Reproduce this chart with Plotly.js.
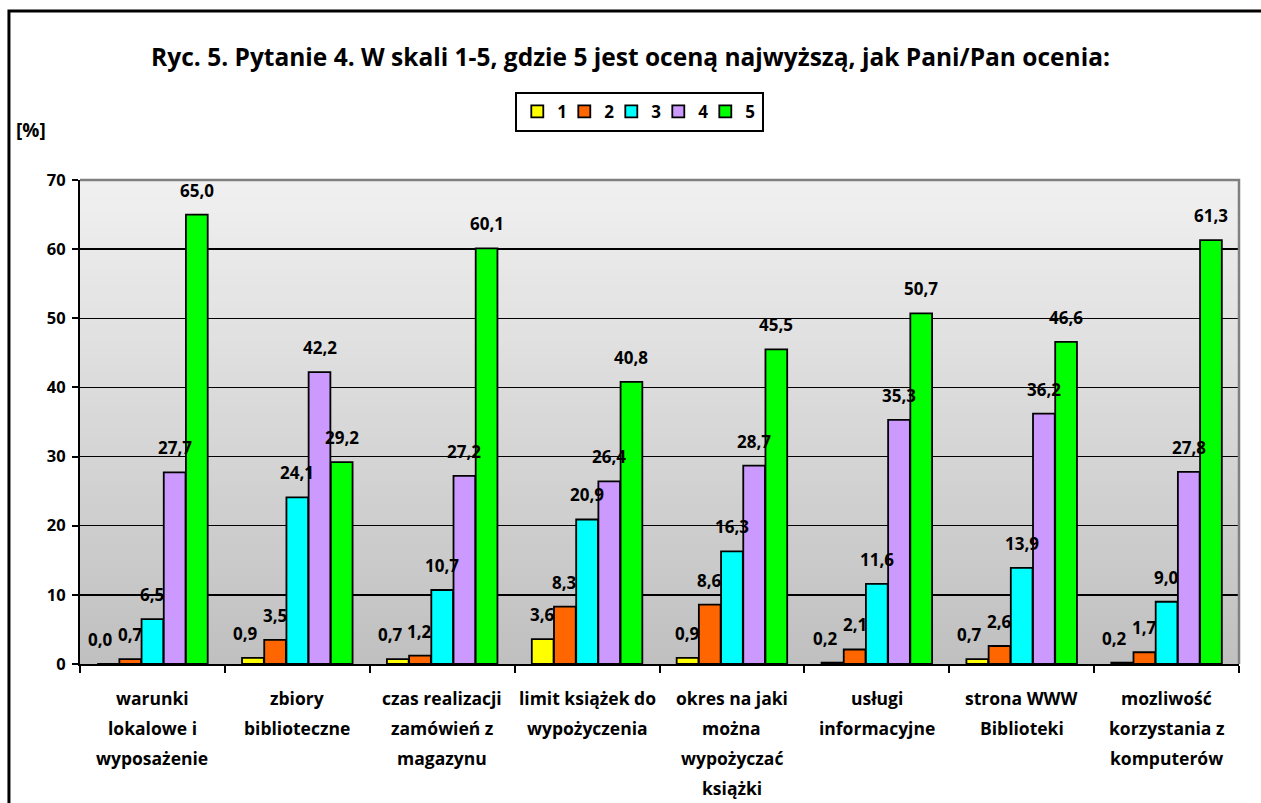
<!DOCTYPE html>
<html>
<head>
<meta charset="utf-8">
<script src="https://cdn.plot.ly/plotly-3.0.1.min.js"></script>
<style>html,body{margin:0;padding:0;background:#fff;}#chart{width:1261px;height:803px;}</style>
</head>
<body>
<div id="chart"></div>
<script>
const categories = [
  "warunki<br>lokalowe i<br>wyposażenie",
  "zbiory<br>biblioteczne",
  "czas realizacji<br>zamówień z<br>magazynu",
  "limit książek do<br>wypożyczenia",
  "okres na jaki<br>można<br>wypożyczać<br>książki",
  "usługi<br>informacyjne",
  "strona WWW<br>Biblioteki",
  "mozliwość<br>korzystania z<br>komputerów"
];
const seriesNames = ["1", "2", "3", "4", "5"];
const s1 = [0.0, 0.9, 0.7, 3.6, 0.9, 0.2, 0.7, 0.2];
const s2 = [0.7, 3.5, 1.2, 8.3, 8.6, 2.1, 2.6, 1.7];
const s3 = [6.5, 24.1, 10.7, 20.9, 16.3, 11.6, 13.9, 9.0];
const s4 = [27.7, 42.2, 27.2, 26.4, 28.7, 35.3, 36.2, 27.8];
const s5 = [65.0, 29.2, 60.1, 40.8, 45.5, 50.7, 46.6, 61.3];
const yTicks = [0, 10, 20, 30, 40, 50, 60, 70];

const colors = ["#ffff00", "#ff6600", "#00ffff", "#cc99ff", "#00ff00"];
const FONT = "'Open Sans', 'Noto Sans', sans-serif";
const allSeries = [s1, s2, s3, s4, s5];

const W = 1261, H = 803;
const M = { l: 80, r: 22, t: 180, b: 139 };
const BARGAP = 0.234, GROUPGAP = 0.02;
const YMAX = 70;
const LABEL_SIZE = 17;

const traces = allSeries.map((vals, i) => ({
  type: "bar",
  name: seriesNames[i],
  x: categories,
  y: vals,
  marker: { color: colors[i], line: { color: "#000", width: 1.8 } },
  legendwidth: i === allSeries.length - 1 ? 12 : 2,
  hoverinfo: "x+y"
}));

// gradient background bands
const shapes = [];
const N = 60;
for (let k = 0; k < N; k++) {
  const t = k / (N - 1);
  const c = Math.round(0xc0 + (0xf0 - 0xc0) * t);
  const hex = "#" + c.toString(16).padStart(2, "0").repeat(3);
  shapes.push({
    type: "rect", xref: "x domain", yref: "y domain",
    x0: 0, x1: 1, y0: k / N, y1: (k + 1) / N + 0.002,
    fillcolor: hex, line: { width: 0 }, layer: "below"
  });
}
// gray top/right border of plot area
shapes.push({
  type: "path", xref: "x domain", yref: "y domain",
  path: "M 0 1 L 1 1 L 1 0",
  line: { color: "#808080", width: 2.5 }, layer: "above"
});
// outer frame
shapes.push({
  type: "rect", xref: "paper", yref: "paper",
  x0: -0.0613, x1: 1.2, y0: -0.6, y1: 1.349,
  line: { color: "#000", width: 3 }, fillcolor: "rgba(0,0,0,0)", layer: "below"
});

const annotations = [];

// value labels: anchored at (category, value), offset to their bar within the group
const plotW = W - M.l - M.r, plotH = H - M.t - M.b;
const slot = plotW / categories.length * (1 - BARGAP) / allSeries.length;
const pxPerUnit = plotH / YMAX;
const fmt = v => v.toFixed(1).replace(".", ",");
const estWidth = s => s.split("").reduce((a, ch) => a + (ch === "," ? 0.3 : 0.6) * LABEL_SIZE, 0);
categories.forEach((cat, ci) => {
  const n = allSeries.length;
  const shifts = new Array(n).fill(0);
  // simple overlap avoidance: push a label left if it collides with its right neighbour
  for (let i = n - 2; i >= 0; i--) {
    const a = allSeries[i][ci], b = allSeries[i + 1][ci];
    if (Math.abs(b - a) * pxPerUnit < 20) {
      const wa = estWidth(fmt(a)), wb = estWidth(fmt(b));
      const centerA = (i - (n - 1) / 2) * slot + shifts[i];
      const centerB = (i + 1 - (n - 1) / 2) * slot + shifts[i + 1];
      const overlap = (centerA + wa / 2 + 4) - (centerB - wb / 2);
      if (overlap > 0) shifts[i] -= overlap;
    }
  }
  allSeries.forEach((vals, i) => {
    annotations.push({
      x: cat, xref: "x", y: vals[ci], yref: "y",
      xanchor: "center", yanchor: "bottom",
      xshift: (i - (n - 1) / 2) * slot + shifts[i], yshift: 11,
      text: fmt(vals[ci]), showarrow: false,
      font: { family: FONT, size: LABEL_SIZE, color: "#000", weight: "bold" }
    });
  });
});

// category labels as annotations (one per line, for Excel-like line spacing)
categories.forEach(cat => {
  cat.split("<br>").forEach((line, li) => {
    annotations.push({
      x: cat, xref: "x", y: 0, yref: "paper",
      yanchor: "top", yshift: -20 - li * 30,
      text: line, showarrow: false,
      font: { family: FONT, size: 17.5, color: "#000", weight: "bold" }
    });
  });
});
annotations.push({
  x: -0.042, xref: "paper", y: 1.103, yref: "paper",
  xanchor: "center", yanchor: "middle",
  text: "[%]", showarrow: false,
  font: { family: FONT, size: 19, color: "#000", weight: "bold" }
});

const layout = {
  width: W, height: H,
  margin: M,
  paper_bgcolor: "#fff",
  plot_bgcolor: "#c0c0c0",
  separators: ", ",
  font: { family: FONT, color: "#000" },
  title: {
    text: "<b>Ryc. 5. Pytanie 4. W skali 1-5, gdzie 5 jest oceną najwyższą, jak Pani/Pan ocenia:</b>",
    font: { family: FONT, size: 24.5, color: "#000" },
    x: 0.5, xanchor: "center", xref: "container",
    y: 1 - 57 / H, yanchor: "middle", yref: "container"
  },
  barmode: "group",
  bargap: BARGAP,
  bargroupgap: GROUPGAP,
  showlegend: true,
  legend: {
    orientation: "h",
    x: 0.483, xanchor: "center", xref: "paper",
    y: 1.182, yanchor: "top", yref: "paper",
    bordercolor: "#000", borderwidth: 2, bgcolor: "#fff",
    font: { family: FONT, size: 17, color: "#000", weight: "bold" },
    itemwidth: 30,
    entrywidthmode: "pixels",
    traceorder: "normal"
  },
  xaxis: {
    type: "category",
    showticklabels: false,
    tickson: "boundaries",
    ticks: "outside", ticklen: 7, tickwidth: 2, tickcolor: "#000",
    showline: true, linecolor: "#000", linewidth: 2,
    showgrid: false, zeroline: false, fixedrange: true
  },
  yaxis: {
    range: [0, YMAX],
    tickvals: yTicks,
    ticktext: yTicks.map(String),
    ticks: "outside", ticklen: 6, tickwidth: 2, tickcolor: "#000",
    ticklabelstandoff: 3,
    tickfont: { family: FONT, size: 16.5, color: "#000", weight: "bold" },
    showline: true, linecolor: "#000", linewidth: 2,
    showgrid: true, gridcolor: "#000", gridwidth: 1.5,
    zeroline: false, fixedrange: true
  },
  shapes: shapes,
  annotations: annotations
};

Plotly.newPlot("chart", traces, layout, { displayModeBar: false, staticPlot: true });
</script>
</body>
</html>
